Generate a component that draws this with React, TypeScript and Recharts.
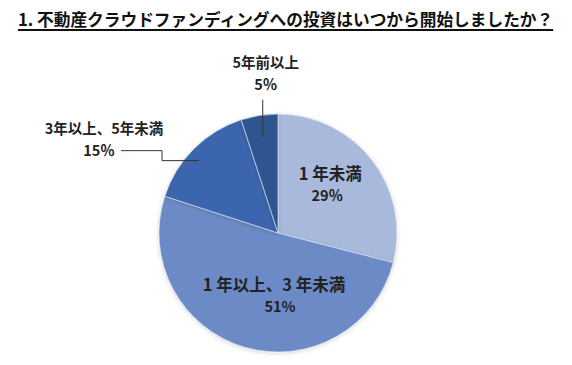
import { PieChart, Pie, Cell } from 'recharts'

document.body.style.margin = '0'

const categories = ['1 年未満', '1 年以上、3 年未満', '3年以上、5年未満', '5年前以上']
const shares = [29, 51, 15, 5]
const shareLabels = ['29％', '51%', '15％', '5％']

const COLORS = ['#a9b9dc', '#6c8bc6', '#3a66ae', '#2d5590']
const FONT = '"Noto Sans CJK JP", "Noto Sans", sans-serif'
const RAD = Math.PI / 180

const data = categories.map((name, i) => ({ name, value: shares[i] }))

const polar = (cx: number, cy: number, r: number, angle: number) => ({
  x: cx + r * Math.cos(-angle * RAD),
  y: cy + r * Math.sin(-angle * RAD),
})

// ラベル配置（内側2つ、外側2つは引き出し線つき）
const renderLabel = (props: any) => {
  const { cx, cy, midAngle, outerRadius, index } = props
  const text = { fontFamily: FONT, fontWeight: 700, fill: '#222', textAnchor: 'middle' as const }

  if (index === 0 || index === 1) {
    const p = index === 0
      ? polar(cx, cy, outerRadius * 0.58, midAngle + 6.6)
      : polar(cx, cy, outerRadius * 0.53, midAngle + 12.5)
    return (
      <g key={`l${index}`}>
        <text x={p.x + (index === 0 ? 3 : 0)} y={p.y - 5} fontSize={16.5} {...text}>{categories[index]}</text>
        <text x={p.x + (index === 1 ? 6 : 0)} y={p.y + 16} fontSize={14.5} {...text}>{shareLabels[index]}</text>
      </g>
    )
  }

  if (index === 2) {
    const a = polar(cx, cy, outerRadius * 0.9, midAngle + 2.5)
    const bendX = a.x - 37
    const endX = bendX - 41
    return (
      <g key="l2">
        <polyline
          points={`${a.x},${a.y} ${bendX},${a.y} ${bendX},${a.y - 10} ${endX},${a.y - 10}`}
          fill="none"
          stroke="#333"
          strokeWidth={1}
        />
        <text x={endX - 22} y={a.y - 5} fontSize={14.5} {...text}>{shareLabels[2]}</text>
        <text x={endX - 17} y={a.y - 27} fontSize={14.5} {...text}>{categories[2]}</text>
      </g>
    )
  }

  const a = polar(cx, cy, outerRadius * 0.82, midAngle)
  return (
    <g key="l3">
      <line x1={a.x} y1={a.y} x2={a.x} y2={a.y - 37} stroke="#333" strokeWidth={1} />
      <text x={a.x + 3} y={a.y - 47} fontSize={14.5} {...text}>{shareLabels[3]}</text>
      <text x={a.x + 3} y={a.y - 69} fontSize={14.5} {...text}>{categories[3]}</text>
    </g>
  )
}

export default function App() {
  return (
    <div style={{ position: 'relative', width: 572, height: 365, background: '#fff' }}>
      <div
        style={{
          position: 'absolute',
          left: 18,
          top: 7,
          fontFamily: FONT,
          fontWeight: 700,
          fontSize: 16.7,
          color: '#111',
          textDecoration: 'underline',
          textUnderlineOffset: 3,
          textDecorationThickness: 2,
          whiteSpace: 'nowrap',
        }}
      >
        1. 不動産クラウドファンディングへの投資はいつから開始しましたか？
      </div>
      <PieChart width={572} height={365} margin={{ top: 0, right: 0, bottom: 0, left: 0 }}>
        <defs>
          <filter id="pieShadow" x="-10%" y="-10%" width="120%" height="120%">
            <feDropShadow dx="0" dy="1" stdDeviation="2" floodColor="#000" floodOpacity="0.18" />
          </filter>
        </defs>
        <Pie
          data={data}
          dataKey="value"
          nameKey="name"
          cx={278}
          cy={233}
          outerRadius={119}
          startAngle={90}
          endAngle={-270}
          stroke="#e6ebf5"
          strokeWidth={0.6}
          label={renderLabel}
          labelLine={false}
          isAnimationActive={false}
          style={{ filter: 'url(#pieShadow)' }}
        >
          {data.map((_, i) => (
            <Cell key={i} fill={COLORS[i]} />
          ))}
        </Pie>
      </PieChart>
    </div>
  )
}
